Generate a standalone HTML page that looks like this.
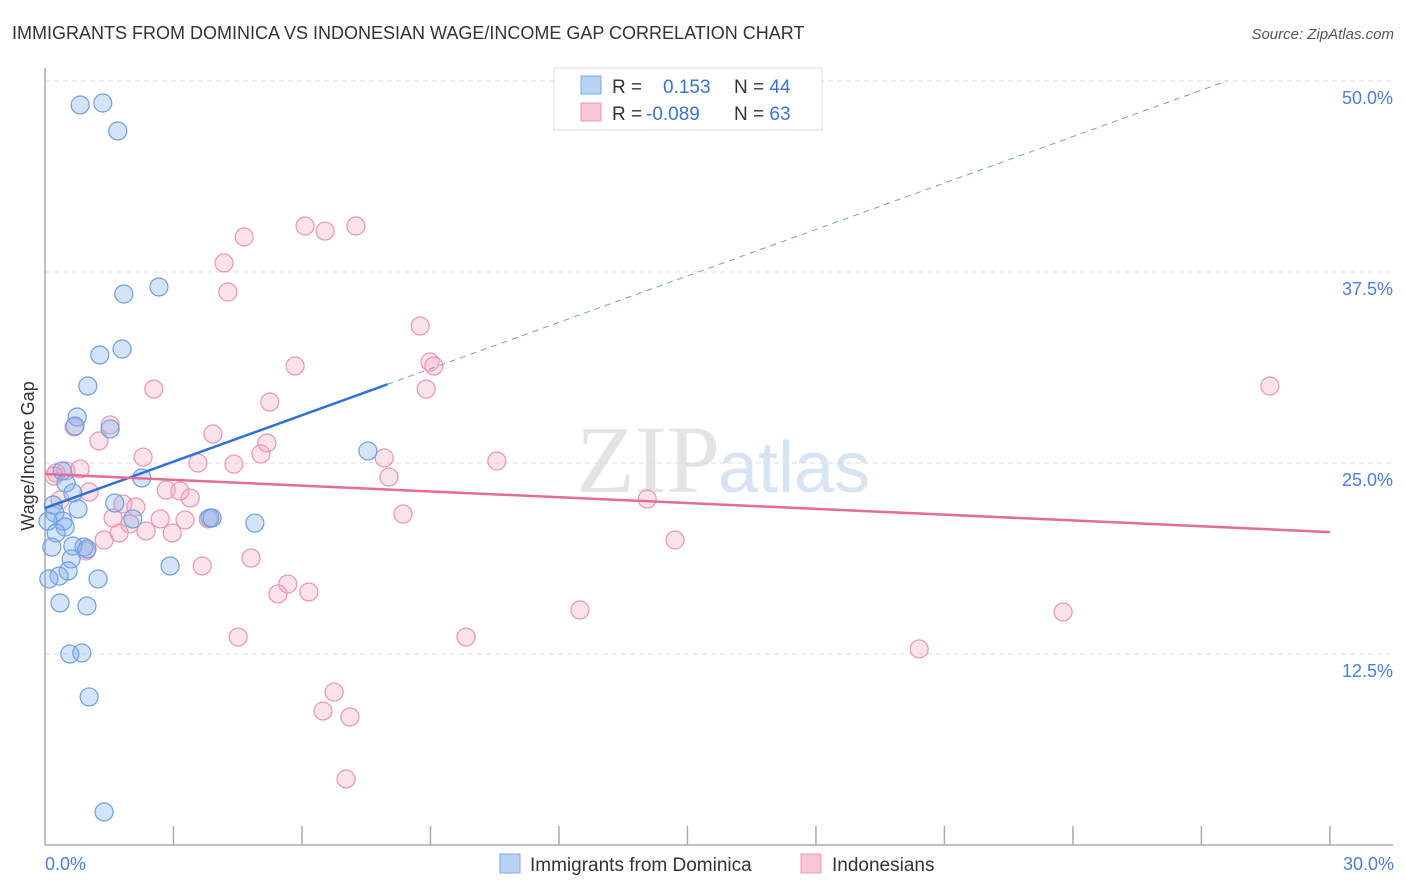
<!DOCTYPE html>
<html><head><meta charset="utf-8"><style>
body{margin:0;background:#fff;font-family:"Liberation Sans",sans-serif;}
svg{display:block}
</style></head><body>
<svg id="c" width="1406" height="892">
<text x="12" y="39" font-size="18" fill="#333">IMMIGRANTS FROM DOMINICA VS INDONESIAN WAGE/INCOME GAP CORRELATION CHART</text>
<text x="1394" y="39" font-size="15" fill="#555" font-style="italic" text-anchor="end">Source: ZipAtlas.com</text>
<text x="720" y="492" font-size="96" fill="#e4e4e4" text-anchor="end" font-family="Liberation Serif">ZIP</text>
<text x="718" y="492" font-size="72" fill="#d6e4f4">atlas</text>
<g id="grid"></g><g id="pts"></g><g id="lines"></g>
<text transform="translate(34,456) rotate(-90)" font-size="18" fill="#333" text-anchor="middle">Wage/Income Gap</text>
<text x="45" y="870" font-size="18" fill="#4a7fd4">0.0%</text>
<text x="1394" y="870" font-size="18" fill="#4a7fd4" text-anchor="end">30.0%</text>
<g>
<rect x="554" y="68" width="268" height="62" fill="#fff" stroke="#ddd"/>
<rect x="581" y="76" width="20" height="18" fill="#b8d2f4" stroke="#7eaae6"/>
<rect x="581" y="103" width="20" height="18" fill="#f9c6d4" stroke="#ee9ab2"/>
<text x="612" y="93" font-size="19" fill="#333">R = <tspan fill="#3b74d0" x="663">0.153</tspan><tspan x="734" fill="#333">N = </tspan><tspan fill="#3b74d0">44</tspan></text>
<text x="612" y="120" font-size="19" fill="#333">R = <tspan fill="#3b74d0" x="646">-0.089</tspan><tspan x="734" fill="#333">N = </tspan><tspan fill="#3b74d0">63</tspan></text>
</g>
<g>
<rect x="500" y="854" width="20" height="19" fill="#b8d2f4" stroke="#7eaae6"/>
<text x="530" y="871" font-size="19" fill="#333">Immigrants from Dominica</text>
<rect x="801" y="854" width="20" height="19" fill="#f9c6d4" stroke="#ee9ab2"/>
<text x="832" y="871" font-size="19" fill="#333">Indonesians</text>
</g>
</svg>
<script>
const yTicks=[12.5,25,37.5,50];
const yTickLabels=["12.5%","25.0%","37.5%","50.0%"];
const blueX=[.82,1.35,1.70,1.84,2.66,1.28,1.80,1.00,.75,.70,1.52,.40,2.26,.49,.65,.77,1.63,.19,.23,.42,.07,.47,.26,2.05,3.85,4.90,.16,.65,.91,.61,.54,.33,.09,1.24,2.92,.35,.98,.58,.86,1.03,1.38,7.54,3.90,.98];
const blueY=[48.43,48.56,46.73,36.06,36.52,32.07,32.46,30.04,28.01,27.42,27.23,24.48,24.02,23.69,23.04,21.99,22.38,22.25,21.73,21.20,21.20,20.81,20.42,21.34,21.40,21.07,19.50,19.57,19.50,18.72,17.93,17.60,17.41,17.41,18.26,15.84,15.64,12.50,12.57,9.69,2.16,25.79,21.40,19.37];
const pinkX=[6.07,6.54,7.26,4.65,4.18,4.27,8.76,5.84,8.99,9.08,2.54,8.90,5.25,1.52,.68,3.92,1.26,5.18,2.29,3.57,5.04,4.41,7.92,10.55,8.03,.26,.49,.82,.21,1.03,2.83,3.15,3.39,.35,1.82,2.12,1.59,2.69,3.27,3.81,8.36,14.06,2.36,2.97,1.98,1.73,1.38,.96,14.71,4.81,3.67,5.67,5.44,6.16,12.49,23.77,28.60,4.51,9.83,20.41,6.75,6.49,7.12,7.03];
const pinkY=[40.51,40.18,40.51,39.79,38.09,36.19,33.97,31.35,31.61,31.35,29.84,29.84,28.99,27.49,27.36,26.90,26.44,26.31,25.39,25.00,25.59,24.93,25.33,25.13,24.08,24.35,24.48,24.61,24.15,23.10,23.23,23.17,22.71,22.58,22.32,22.12,21.40,21.34,21.27,21.34,21.66,22.64,20.55,20.42,21.01,20.42,19.96,19.24,19.96,18.78,18.26,17.08,16.43,16.56,15.38,15.25,30.04,13.61,13.61,12.83,10.01,8.77,8.38,4.32];
const blueTrend=[22.05,1.013];
const pinkTrend=[24.28,-0.1267];
const X=v=>45+v*42.83, Y=v=>845-v*15.28;
const NS="http://www.w3.org/2000/svg";
function mk(t,a,p){const e=document.createElementNS(NS,t);for(const k in a)e.setAttribute(k,a[k]);p.appendChild(e);return e;}
const g=document.getElementById('grid');
yTicks.forEach((t,i)=>{
 const l=mk('line',{x1:45,x2:1393,y1:Y(t),y2:Y(t),stroke:'#ddd','stroke-dasharray':'5,4'},g);
 
 
 const tx=mk('text',{x:1393,y:Y(t)+23,'font-size':18,fill:'#4a7fd4','text-anchor':'end'},g);
 tx.textContent=yTickLabels[i];
 
 
});
const ax=mk('line',{x1:45,x2:45,y1:68,y2:845,stroke:'#aaa','stroke-width':1.5},g);


const bx=mk('line',{x1:45,x2:1393,y1:845,y2:845,stroke:'#aaa','stroke-width':1.5},g);


for(let v=3;v<=30;v+=3){const t=mk('line',{x1:X(v),x2:X(v),y1:826,y2:845,stroke:'#aaa','stroke-width':1.5},g);
 
 }
const p=document.getElementById('pts');
pinkX.forEach((x,i)=>{const c=mk('circle',{cx:X(x),cy:Y(pinkY[i]),r:9,fill:'rgba(244,160,188,0.3)',stroke:'#eb95b0','stroke-width':1.2},p);
 
 });
blueX.forEach((x,i)=>{const c=mk('circle',{cx:X(x),cy:Y(blueY[i]),r:9,fill:'rgba(130,175,235,0.35)',stroke:'#6f9fe0','stroke-width':1.2},p);
 
 });
const L=document.getElementById('lines');
const b1=mk('line',{x1:X(0),y1:Y(blueTrend[0]),x2:X(8),y2:Y(blueTrend[0]+8*blueTrend[1]),stroke:'#2f6fd6','stroke-width':2.5},L);


const xe=(50-blueTrend[0])/blueTrend[1];
const b2=mk('line',{x1:X(8),y1:Y(blueTrend[0]+8*blueTrend[1]),x2:X(xe),y2:Y(50),stroke:'#6f9fe0','stroke-width':1,'stroke-dasharray':'6,5'},L);


const p1=mk('line',{x1:X(0),y1:Y(pinkTrend[0]),x2:X(30),y2:Y(pinkTrend[0]+30*pinkTrend[1]),stroke:'#e56b98','stroke-width':2.5},L);


</script>
</body></html>
